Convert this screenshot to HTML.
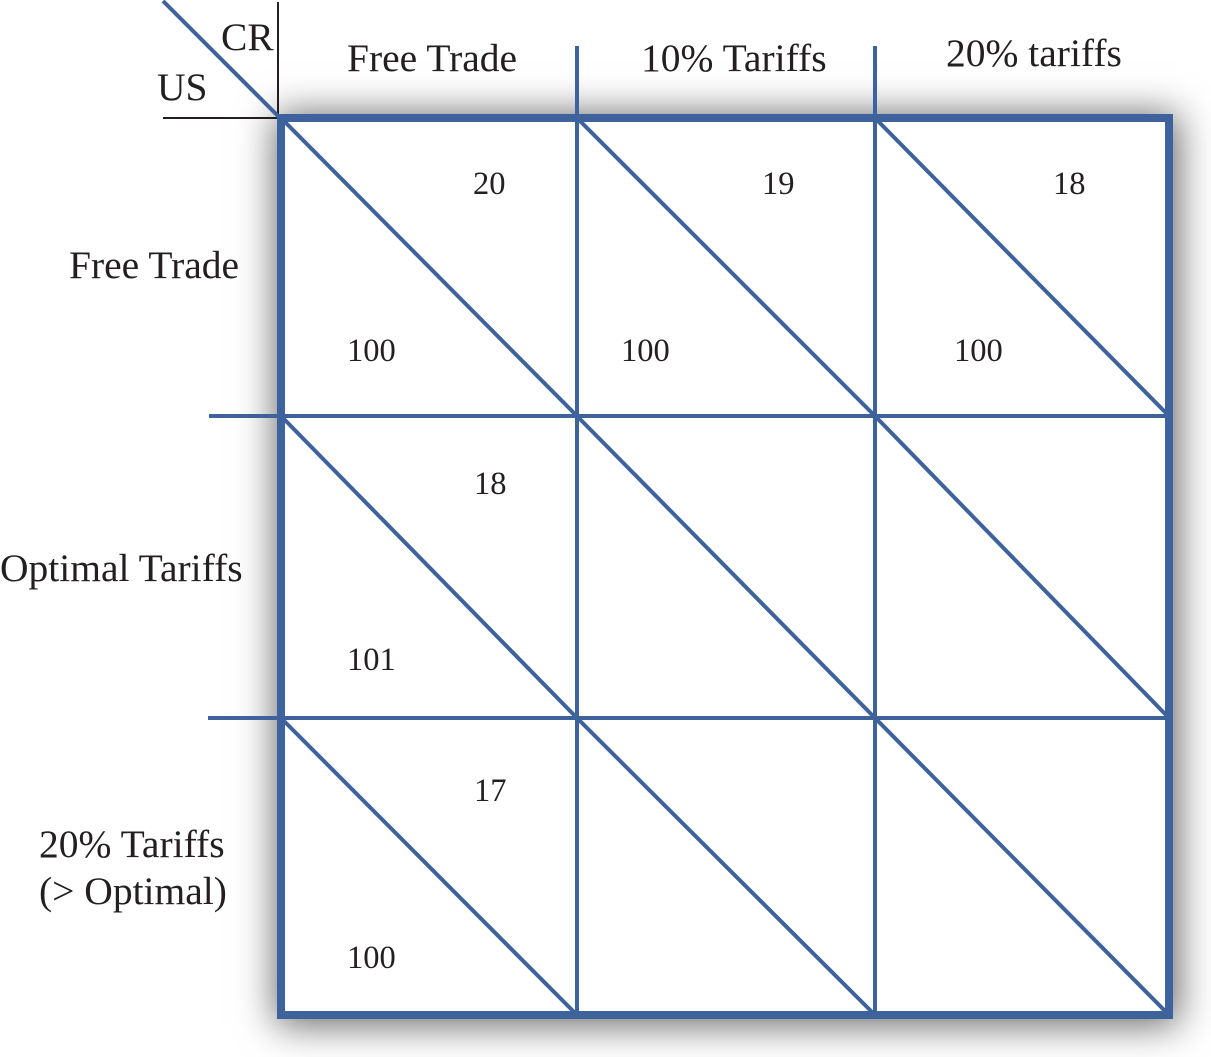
<!DOCTYPE html>
<html lang="en">
<head>
<meta charset="utf-8">
<title>Tariff game payoff matrix</title>
<style>
html,body{margin:0;padding:0;background:#fff;width:1211px;height:1057px;overflow:hidden}
#stage{position:relative;width:1211px;height:1057px}
#board{position:absolute;left:277px;top:114px;width:896px;height:905px;background:#fff;box-shadow:2px 3px 36px 3px rgba(0,0,0,.6)}
svg{position:absolute;left:0;top:0}
text{font-family:"Liberation Serif",serif;fill:#231f20}
.h{font-size:39.5px}
.n{font-size:32.5px}
.g line{stroke:#3d629c;stroke-width:4}
</style>
</head>
<body>
<div id="stage">
<div id="board"></div>
<svg width="1211" height="1057" viewBox="0 0 1211 1057">
  <g>
    <line x1="278" y1="2" x2="278" y2="118" stroke="#231f20" stroke-width="2"/>
    <line x1="163" y1="118" x2="278" y2="118" stroke="#231f20" stroke-width="2"/>
    <line x1="163" y1="1" x2="279" y2="117" stroke="#3d629c" stroke-width="4"/>
  </g>
  <g class="g">
    <line x1="577" y1="46" x2="577" y2="1015"/>
    <line x1="875" y1="46" x2="875" y2="1015"/>
    <line x1="209" y1="416" x2="1169" y2="416"/>
    <line x1="208" y1="718" x2="1169" y2="718"/>
    <line x1="281" y1="118" x2="577" y2="416"/>
    <line x1="577" y1="118" x2="875" y2="416"/>
    <line x1="875" y1="118" x2="1169" y2="416"/>
    <line x1="281" y1="416" x2="577" y2="718"/>
    <line x1="577" y1="416" x2="875" y2="718"/>
    <line x1="875" y1="416" x2="1169" y2="718"/>
    <line x1="281" y1="718" x2="577" y2="1015"/>
    <line x1="577" y1="718" x2="875" y2="1015"/>
    <line x1="875" y1="718" x2="1169" y2="1015"/>
  </g>
  <rect x="281" y="118" width="888" height="897" fill="none" stroke="#3d629c" stroke-width="8"/>
  <text class="h" x="221" y="50">CR</text>
  <text class="h" x="157" y="100">US</text>
  <text class="h" x="347" y="71">Free Trade</text>
  <text class="h" x="641" y="71">10% Tariffs</text>
  <text class="h" x="946" y="66">20% tariffs</text>
  <text class="h" x="69" y="278">Free Trade</text>
  <text class="h" x="0" y="581">Optimal Tariffs</text>
  <text class="h" x="39" y="857">20% Tariffs</text>
  <text class="h" x="39" y="904">(&gt; Optimal)</text>
  <text class="n" x="473" y="194">20</text>
  <text class="n" x="762" y="194">19</text>
  <text class="n" x="1053" y="194">18</text>
  <text class="n" x="347" y="361">100</text>
  <text class="n" x="621" y="361">100</text>
  <text class="n" x="954" y="361">100</text>
  <text class="n" x="474" y="494">18</text>
  <text class="n" x="347" y="670">101</text>
  <text class="n" x="474" y="801">17</text>
  <text class="n" x="347" y="968">100</text>
</svg>
</div>
</body>
</html>
